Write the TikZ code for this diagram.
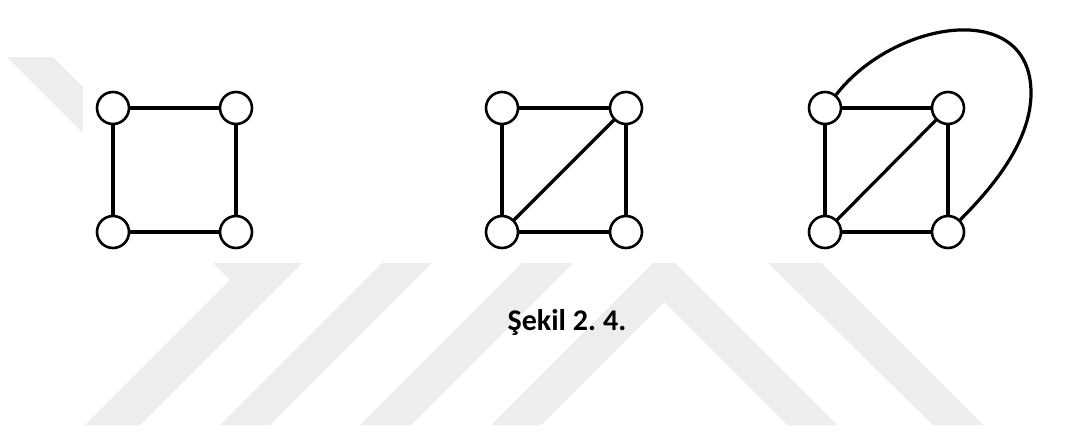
\documentclass[tikz,border=0pt]{standalone}
\usepackage{fontspec}
\setmainfont{Carlito}
\definecolor{wm}{HTML}{EDEDED}
\begin{document}
\begin{tikzpicture}[x=1pt,y=-1pt,
  vtx/.style={circle,draw=black,line width=2.6pt,fill=white,minimum size=32pt,inner sep=0pt},
  edge/.style={line width=3.2pt},
  wmark/.style={fill=wm}]
\useasboundingbox (0,0) rectangle (1084,431);
% watermark
\fill[wmark] (7,57) -- (53,57) -- (280.5,284.5) -- (257.5,307.5) -- cycle;
\fill[wmark] (85,425) -- (140,425) -- (302,263) -- (247,263) -- cycle;
\fill[wmark] (220,425) -- (270,425) -- (432,263) -- (382,263) -- cycle;
\fill[wmark] (360,425) -- (411,425) -- (573,263) -- (522,263) -- cycle;
\fill[wmark] (491,425) -- (664,252) -- (837,425) -- (787,425) -- (664,302) -- (541,425) -- cycle;
\fill[wmark] (933,425) -- (983,425) -- (821,263) -- (768,263) -- cycle;
\fill[white] (83,0) rectangle (1084,263);
% graph 1
\node[vtx] (a1) at (113,108) {};
\node[vtx] (b1) at (236,108) {};
\node[vtx] (c1) at (113,232) {};
\node[vtx] (d1) at (236,232) {};
\draw[edge] (a1) -- (b1);
\draw[edge] (c1) -- (d1);
\draw[edge] (a1) -- (c1);
\draw[edge] (b1) -- (d1);
% graph 2
\node[vtx] (a2) at (502,108) {};
\node[vtx] (b2) at (626,108) {};
\node[vtx] (c2) at (502,232) {};
\node[vtx] (d2) at (626,232) {};
\draw[edge] (a2) -- (b2);
\draw[edge] (c2) -- (d2);
\draw[edge] (a2) -- (c2);
\draw[edge] (b2) -- (d2);
\draw[edge] (c2) -- (b2);
% graph 3
\node[vtx] (a3) at (825,108) {};
\node[vtx] (b3) at (948,108) {};
\node[vtx] (c3) at (825,232) {};
\node[vtx] (d3) at (948,232) {};
\draw[edge] (a3) -- (b3);
\draw[edge] (c3) -- (d3);
\draw[edge] (a3) -- (c3);
\draw[edge] (b3) -- (d3);
\draw[edge] (c3) -- (b3);
\coordinate (loopR) at (1031,93);
\draw[edge] (a3.50) .. controls (894,20) and (1031,-2) .. (loopR)
  .. controls (1031,143) and (990,190) .. (d3.45);
% caption
\node[anchor=base,inner sep=0pt,font=\fontsize{30}{33}\selectfont\bfseries] (cap) at (567,330) {Şekil 2.\kern-2pt{} 4.};
\end{tikzpicture}
\end{document}
